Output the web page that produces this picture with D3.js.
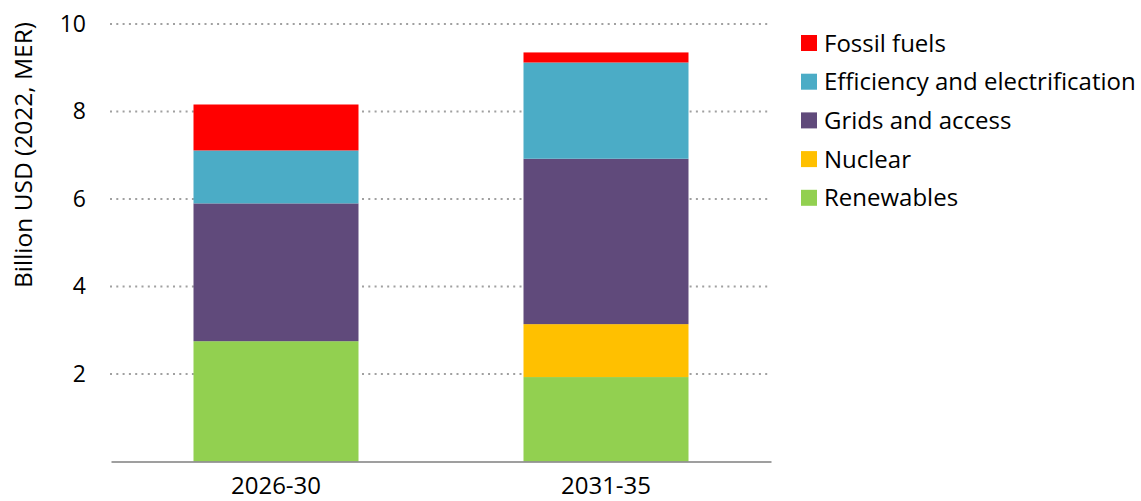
<!DOCTYPE html>
<html>
<head>
<meta charset="utf-8">
<script src="https://cdn.jsdelivr.net/npm/d3@7/dist/d3.min.js"></script>
<style>
  html, body { margin: 0; padding: 0; background: #fff; }
  svg text { font-family: "Open Sans", Lato, sans-serif; fill: #000; }
</style>
</head>
<body>
<svg id="chart" width="1141" height="501"></svg>
<script>
const periods = ["2026-30", "2031-35"];
const seriesNames = ["Renewables", "Nuclear", "Grids and access", "Efficiency and electrification", "Fossil fuels"];
const seriesColors = ["#92D050", "#FFC000", "#604A7B", "#4BACC6", "#FF0000"];
const renewables = [2.75, 1.93];
const nuclear = [0, 1.21];
const grids = [3.15, 3.78];
const efficiency = [1.21, 2.20];
const fossil = [1.05, 0.23];
const yTicks = [2, 4, 6, 8, 10];
const yTitle = "Billion USD (2022, MER)";

const seriesValues = [renewables, nuclear, grids, efficiency, fossil];
const rows = periods.map((p, i) => {
  const r = { period: p };
  seriesNames.forEach((s, k) => r[s] = seriesValues[k][i]);
  return r;
});

const svg = d3.select("#chart");
const plotLeft = 111, plotRight = 771, plotTop = 24, plotBottom = 461.5;
const font = "'Open Sans', Lato, sans-serif";

const x = d3.scaleBand().domain(periods).range([plotLeft, plotRight]).paddingInner(0.5).paddingOuter(0.25);
const y = d3.scaleLinear().domain([0, 10]).range([plotBottom, plotTop]);

// dotted horizontal gridlines
svg.append("g").selectAll("line").data(yTicks).join("line")
  .attr("x1", plotLeft - 1).attr("x2", plotRight)
  .attr("y1", d => y(d)).attr("y2", d => y(d))
  .attr("stroke", "#a0a0a0").attr("stroke-width", 2)
  .attr("stroke-dasharray", "2,4.3");

// y tick labels
const yAxis = svg.append("g").attr("transform", `translate(${plotLeft},0)`)
  .call(d3.axisLeft(y).tickValues(yTicks).tickSize(0).tickPadding(25));
yAxis.select(".domain").remove();
yAxis.selectAll("text").style("font-size", "23px").style("font-family", font).attr("fill", "#000");

// stacked bars
const stack = d3.stack().keys(seriesNames)(rows);
svg.append("g").selectAll("g").data(stack).join("g")
  .attr("fill", (d, i) => seriesColors[i])
  .selectAll("rect").data(d => d).join("rect")
  .attr("x", d => x(d.data.period))
  .attr("width", x.bandwidth())
  .attr("y", d => y(d[1]))
  .attr("height", d => y(d[0]) - y(d[1]));

// baseline / x axis
const xAxis = svg.append("g").attr("transform", `translate(0,${plotBottom})`)
  .call(d3.axisBottom(x).tickSize(0).tickPadding(15));
xAxis.select(".domain").attr("stroke", "#7f7f7f").attr("stroke-width", 1.5);
xAxis.selectAll("text").style("font-size", "24px").style("font-family", font).attr("fill", "#000");

// y axis title
svg.append("text")
  .attr("transform", `translate(32,155) rotate(-90)`)
  .attr("text-anchor", "middle")
  .style("font-size", "24.5px")
  .text(yTitle);

// legend, top to bottom in reverse stacking order
const legendOrder = seriesNames.map((s, i) => ({ name: s, color: seriesColors[i] })).reverse();
const legend = svg.append("g").attr("transform", "translate(801,43)");
const items = legend.selectAll("g").data(legendOrder).join("g")
  .attr("transform", (d, i) => `translate(0,${i * 38.7})`);
items.append("rect").attr("x", 0).attr("y", -8).attr("width", 16).attr("height", 16).attr("fill", d => d.color);
items.append("text").attr("x", 23).attr("y", 0).attr("dy", "0.36em")
  .style("font-size", "24px").text(d => d.name);
</script>
</body>
</html>
